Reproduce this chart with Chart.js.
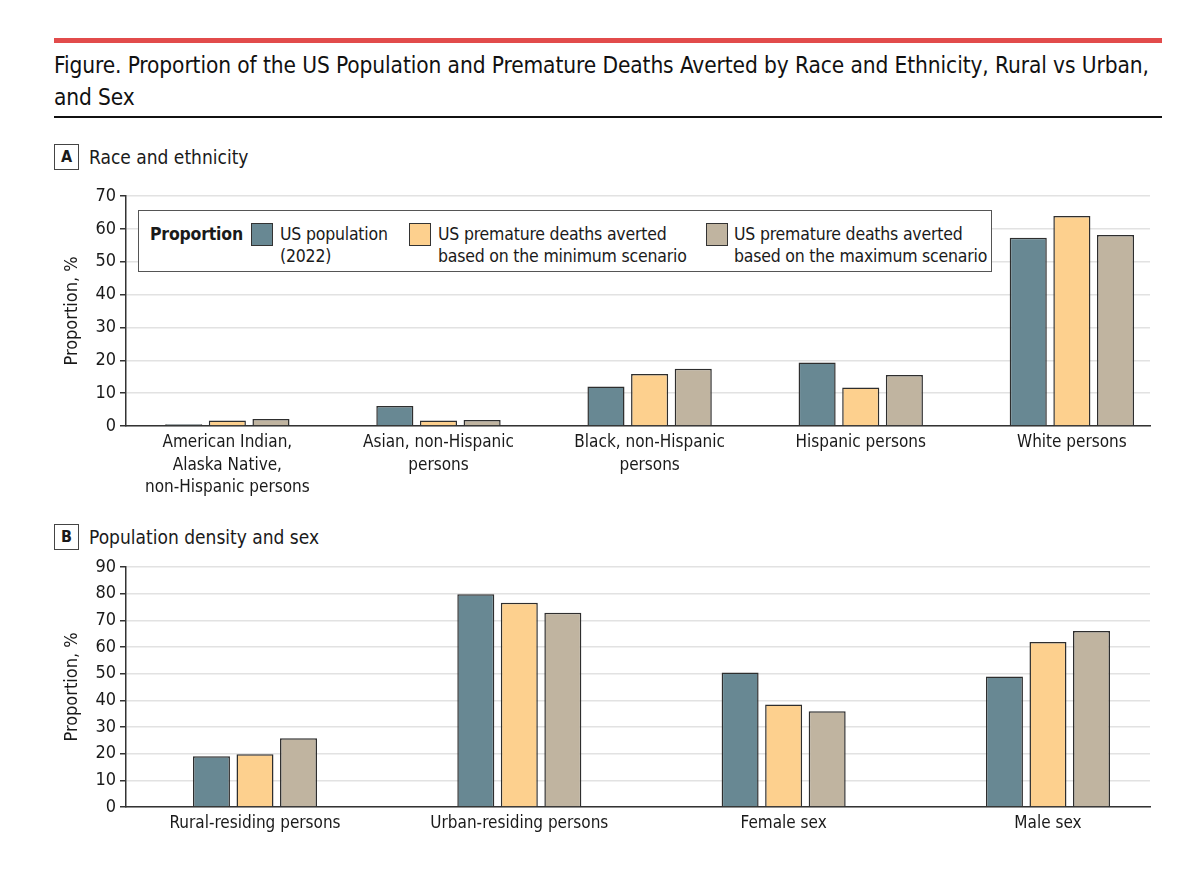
<!DOCTYPE html>
<html>
<head>
<meta charset="utf-8">
<script src="https://cdn.jsdelivr.net/npm/chart.js@4.4.1/dist/chart.umd.min.js"></script>
<style>
  body { margin: 0; background: #fff; font-family: "DejaVu Sans Condensed", "Roboto", sans-serif; color: #1a1a1a; }
  #page { position: relative; width: 1200px; height: 869px; overflow: hidden; }
  .abs { position: absolute; }
  #redline { left: 54px; top: 38px; width: 1108px; height: 5px; background: #e24b4b; }
  #title { left: 54px; top: 49px; width: 1140px; font-size: 22.5px; letter-spacing: -0.1px; line-height: 32px; color: #111; white-space: nowrap; }
  #rule { left: 54px; top: 116px; width: 1108px; height: 2px; background: #111; }
  .panel { left: 54px; font-size: 19px; display: flex; align-items: center; white-space: nowrap; }
  .panel b { display: inline-block; width: 23px; height: 24px; border: 1.5px solid #444; text-align: center; line-height: 24px; font-size: 16px; margin-right: 10px; }
  #legend { left: 138px; top: 210px; width: 852px; height: 60px; border: 1.5px solid #555; background: #fff; z-index: 5; font-size: 17.5px; line-height: 22px; letter-spacing: -0.2px; white-space: nowrap; }
  .lg { position: absolute; top: 12px; }
  .sw { position: absolute; top: 12px; width: 20px; height: 21px; border: 1.3px solid #333; }
  canvas { display: block; }
</style>
</head>
<body>
<div id="page">
  <div id="redline" class="abs"></div>
  <div id="title" class="abs">Figure. Proportion of the US Population and Premature Deaths Averted by Race and Ethnicity, Rural vs Urban,<br>and Sex</div>
  <div id="rule" class="abs"></div>

  <div class="abs panel" style="top:144px"><b>A</b>Race and ethnicity</div>
  <div class="abs panel" style="top:524px"><b>B</b>Population density and sex</div>

  <div id="legend" class="abs">
    <div class="lg" style="left:11px;font-weight:bold">Proportion</div>
    <div class="sw" style="left:112px;background:#688893"></div>
    <div class="lg" style="left:141px">US population<br>(2022)</div>
    <div class="sw" style="left:270px;background:#fdd08e"></div>
    <div class="lg" style="left:299px">US premature deaths averted<br>based on the minimum scenario</div>
    <div class="sw" style="left:567px;background:#c0b4a0"></div>
    <div class="lg" style="left:595px">US premature deaths averted<br>based on the maximum scenario</div>
  </div>

  <div class="abs" style="left:0;top:180px;width:1200px;height:320px"><canvas id="chartA"></canvas></div>
  <div class="abs" style="left:0;top:552px;width:1200px;height:300px"><canvas id="chartB"></canvas></div>
</div>

<script>
// === Datos ===
const seriesNames = ['US population (2022)', 'US premature deaths averted based on the minimum scenario', 'US premature deaths averted based on the maximum scenario'];
const seriesColors = ['#688893', '#fdd08e', '#c0b4a0'];

const raceCats = [
  ['American Indian,', 'Alaska Native,', 'non-Hispanic persons'],
  ['Asian, non-Hispanic', 'persons'],
  ['Black, non-Hispanic', 'persons'],
  'Hispanic persons',
  'White persons'
];
const racePop = [0.5, 6.1, 12.0, 19.3, 57.3];
const raceMin = [1.7, 1.7, 15.8, 11.7, 63.9];
const raceMax = [2.1, 1.8, 17.4, 15.5, 58.1];

const densCats = ['Rural-residing persons', 'Urban-residing persons', 'Female sex', 'Male sex'];
const densPop = [19.0, 79.8, 50.4, 48.9];
const densMin = [19.8, 76.6, 38.4, 61.9];
const densMax = [25.8, 72.8, 35.9, 66.0];

const fontFam = '"DejaVu Sans Condensed", Roboto, sans-serif';

function makeChart(id, cats, series, yMax, xMin, xMax, catPct, plotTop, xAxisH) {
  const ctx = document.getElementById(id).getContext('2d');
  return new Chart(ctx, {
    type: 'bar',
    data: {
      datasets: series.map((vals, s) => ({
        label: seriesNames[s],
        data: vals.map((v, i) => ({ x: i, y: v })),
        backgroundColor: seriesColors[s],
        borderColor: '#2e2e2e',
        borderWidth: 1.5,
        categoryPercentage: catPct,
        barPercentage: 0.85
      }))
    },
    options: {
      responsive: true,
      maintainAspectRatio: false,
      animation: false,
      layout: { padding: { top: plotTop, right: 50, left: 62, bottom: 0 } },
      plugins: { legend: { display: false }, tooltip: { enabled: false } },
      scales: {
        x: {
          type: 'linear',
          offset: false,
          min: xMin,
          max: xMax,
          grid: { display: false, drawTicks: false, offset: false },
          border: { display: true, color: '#333', width: 1.5 },
          ticks: {
            stepSize: 1,
            includeBounds: false,
            autoSkip: false,
            maxRotation: 0,
            padding: 6,
            color: '#1a1a1a',
            font: { family: fontFam, size: 17, lineHeight: 1.3 },
            callback: (v) => (Number.isInteger(v) && cats[v] !== undefined) ? cats[v] : ''
          },
          afterFit: (s) => { s.height = xAxisH; }
        },
        y: {
          min: 0,
          max: yMax,
          ticks: { stepSize: 10, padding: 4, color: '#1a1a1a', font: { family: fontFam, size: 18 } },
          grid: { color: '#e2e2e2', lineWidth: 1.5, tickColor: '#333', tickLength: 6 },
          border: { display: true, color: '#333', width: 1.5 },
          title: { display: true, text: 'Proportion, %', color: '#1a1a1a', font: { family: fontFam, size: 18 }, padding: 0 },
          afterFit: (s) => { s.width = 64; }
        }
      }
    }
  });
}

makeChart('chartA', raceCats, [racePop, raceMin, raceMax], 70, -0.48, 4.37, 0.62, 16, 320 - 246);
makeChart('chartB', densCats, [densPop, densMin, densMax], 90, -0.488, 3.386, 0.494, 15, 300 - 255);
</script>
</body>
</html>
